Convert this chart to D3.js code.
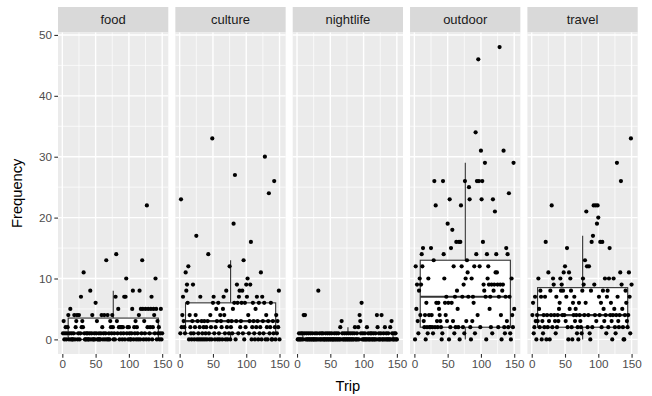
<!DOCTYPE html>
<html>
<head>
<meta charset="utf-8">
<script src="https://cdn.jsdelivr.net/npm/d3@7"></script>
<style>
  body { margin: 0; background: #fff; }
  svg { display: block; font-family: "Liberation Sans", Arial, sans-serif; }
</style>
</head>
<body>
<svg id="chart" width="652" height="396"></svg>
<script>
const facets = ['food', 'culture', 'nightlife', 'outdoor', 'travel'];

// frequency per trip (trip 1..150), one array per facet
const foodFreq = [
  1, 3, 0, 1, 2, 0, 1, 2, 4, 0, 1, 5, 0, 1, 0,
  0, 1, 4, 0, 2, 3, 4, 0, 1, 4, 0, 1, 7, 2, 3,
  2, 11, 1, 0, 0, 1, 0, 1, 0, 0, 1, 8, 0, 1, 4,
  0, 0, 1, 0, 6, 1, 3, 0, 0, 1, 0, 0, 1, 4, 2,
  0, 1, 4, 0, 1, 13, 0, 4, 0, 1, 0, 3, 2, 1, 4,
  2, 0, 1, 0, 7, 14, 3, 1, 5, 2, 0, 2, 1, 2, 0,
  2, 1, 7, 0, 7, 10, 1, 2, 0, 2, 1, 0, 0, 1, 5,
  8, 0, 2, 1, 3, 0, 2, 1, 0, 4, 8, 0, 5, 1, 13,
  5, 0, 3, 1, 5, 0, 22, 2, 5, 0, 1, 2, 5, 7, 0,
  2, 5, 4, 1, 10, 5, 0, 3, 1, 2, 0, 1, 5, 0, 1
];
const cultureFreq = [
  1, 23, 2, 4, 7, 3, 2, 1, 11, 8, 9, 6, 12, 0, 4,
  2, 1, 0, 3, 9, 1, 0, 2, 4, 17, 0, 3, 1, 0, 2,
  7, 0, 3, 1, 0, 2, 3, 0, 1, 2, 0, 3, 14, 1, 0,
  4, 2, 0, 33, 6, 7, 1, 0, 2, 5, 3, 0, 6, 1, 0,
  4, 3, 2, 0, 5, 7, 4, 1, 0, 8, 2, 0, 3, 1, 12,
  0, 2, 3, 1, 5, 19, 6, 27, 0, 3, 9, 6, 1, 7, 8,
  2, 3, 6, 8, 1, 13, 0, 6, 2, 9, 7, 10, 4, 1, 3,
  9, 16, 0, 2, 6, 3, 1, 0, 5, 2, 7, 3, 0, 6, 1,
  2, 11, 0, 7, 3, 1, 6, 30, 0, 4, 2, 0, 3, 24, 1,
  2, 6, 0, 0, 3, 1, 26, 2, 0, 4, 1, 3, 2, 8, 0
];
const nightlifeFreq = [
  0, 0, 1, 0, 0, 1, 0, 1, 0, 4, 1, 4, 0, 1, 0,
  0, 1, 0, 0, 1, 0, 0, 1, 0, 0, 0, 1, 0, 0, 1,
  0, 8, 0, 1, 0, 0, 1, 0, 1, 0, 0, 0, 1, 0, 0,
  1, 0, 0, 1, 0, 0, 1, 0, 0, 0, 1, 0, 0, 1, 0,
  0, 1, 0, 0, 2, 0, 3, 1, 0, 0, 1, 0, 0, 1, 0,
  0, 1, 0, 0, 1, 0, 0, 1, 0, 0, 1, 2, 0, 0, 1,
  0, 2, 0, 4, 3, 1, 6, 0, 1, 0, 0, 1, 0, 0, 2,
  0, 1, 0, 0, 1, 0, 1, 0, 0, 1, 0, 0, 1, 0, 4,
  2, 0, 1, 0, 0, 1, 4, 0, 0, 1, 0, 2, 0, 1, 0,
  0, 1, 0, 0, 2, 0, 3, 1, 0, 0, 1, 0, 1, 0, 0
];
const outdoorFreq = [
  0, 12, 5, 9, 3, 1, 8, 10, 4, 9, 14, 12, 15, 3, 2,
  4, 0, 6, 2, 1, 10, 4, 2, 2, 15, 4, 2, 1, 13, 26,
  2, 22, 6, 3, 2, 6, 5, 4, 3, 2, 0, 1, 26, 14, 10,
  6, 4, 7, 3, 19, 6, 0, 23, 2, 15, 6, 18, 3, 12, 1,
  7, 2, 16, 8, 5, 2, 16, 0, 16, 22, 12, 7, 2, 9, 1,
  26, 10, 3, 13, 11, 7, 25, 23, 2, 0, 10, 3, 7, 6, 12,
  1, 34, 14, 26, 4, 46, 26, 12, 2, 31, 23, 26, 16, 9, 8,
  29, 7, 0, 14, 10, 12, 9, 5, 7, 2, 9, 1, 23, 8, 9,
  21, 11, 14, 11, 9, 2, 7, 48, 9, 4, 0, 8, 9, 31, 2,
  1, 7, 15, 3, 14, 2, 24, 7, 1, 0, 10, 4, 2, 29, 5
];
const travelFreq = [
  4, 6, 1, 2, 7, 3, 0, 4, 3, 10, 5, 2, 8, 7, 0,
  3, 1, 4, 2, 7, 16, 0, 4, 2, 11, 3, 0, 8, 4, 22,
  2, 10, 9, 4, 3, 1, 7, 2, 4, 3, 5, 6, 10, 8, 9,
  4, 8, 11, 4, 12, 3, 7, 15, 2, 0, 11, 5, 10, 8, 2,
  0, 6, 4, 7, 3, 5, 4, 1, 2, 0, 6, 4, 3, 2, 1,
  8, 10, 9, 4, 13, 6, 21, 12, 2, 4, 12, 1, 0, 8, 16,
  2, 17, 22, 9, 4, 22, 3, 19, 22, 20, 7, 4, 16, 6, 2,
  16, 8, 5, 3, 10, 4, 1, 7, 8, 2, 10, 15, 4, 6, 3,
  0, 4, 10, 5, 2, 1, 4, 29, 7, 3, 2, 4, 11, 26, 9,
  5, 2, 0, 0, 4, 8, 6, 3, 2, 4, 11, 7, 1, 33, 9
];
const freqByFacet = [foodFreq, cultureFreq, nightlifeFreq, outdoorFreq, travelFreq];
const trips = d3.range(1, 151);

// boxplot summary, one value per facet
const boxLower  = [0, 0, 0, 0, 0];
const boxQ1     = [0, 1, 0, 2, 2];
const boxMedian = [1, 3, 0, 7, 4];
const boxQ3     = [3.5, 6, 1, 13, 8.5];
const boxUpper  = [8, 13, 2, 29, 17];
const boxCenter = 76.5;
const boxHalfWidth = 67.7;

const yTicks = [0, 10, 20, 30, 40, 50];
const yMinor = [5, 15, 25, 35, 45];
const xTicks = [0, 50, 100, 150];
const xMinor = [25, 75, 125];

const plotLeft = 58, stripTop = 7, panelTop = 32.5, panelBottom = 354;
const panelW = 110.3, panelStep = 117.35;
const panelH = panelBottom - panelTop;
const tickFont = '11.7px';

const svg = d3.select('#chart');

const x = d3.scaleLinear().domain([-6.5, 159.2]).range([0, panelW]);
const y = d3.scaleLinear().domain([-2.4, 50.4]).range([panelH, 0]);

facets.forEach((name, i) => {
  const left = plotLeft + i * panelStep;
  const freq = freqByFacet[i];
  const points = trips.map((t, k) => ({ trip: t, freq: freq[k] }));

  // strip
  svg.append('rect')
    .attr('x', left).attr('y', stripTop)
    .attr('width', panelW).attr('height', panelTop - stripTop)
    .attr('fill', '#D9D9D9');
  svg.append('text')
    .attr('x', left + panelW / 2).attr('y', (stripTop + panelTop) / 2)
    .attr('dy', '0.35em')
    .attr('text-anchor', 'middle')
    .attr('fill', '#1A1A1A')
    .style('font-size', '13px')
    .text(name);

  const g = svg.append('g').attr('transform', `translate(${left},${panelTop})`);

  g.append('rect').attr('width', panelW).attr('height', panelH).attr('fill', '#EBEBEB');

  g.selectAll('.ymin').data(yMinor).enter().append('line')
    .attr('x1', 0).attr('x2', panelW).attr('y1', d => y(d)).attr('y2', d => y(d))
    .attr('stroke', '#fff').attr('stroke-width', 0.7);
  g.selectAll('.xmin').data(xMinor).enter().append('line')
    .attr('y1', 0).attr('y2', panelH).attr('x1', d => x(d)).attr('x2', d => x(d))
    .attr('stroke', '#fff').attr('stroke-width', 0.7);
  g.selectAll('.ymaj').data(yTicks).enter().append('line')
    .attr('x1', 0).attr('x2', panelW).attr('y1', d => y(d)).attr('y2', d => y(d))
    .attr('stroke', '#fff').attr('stroke-width', 1.4);
  g.selectAll('.xmaj').data(xTicks).enter().append('line')
    .attr('y1', 0).attr('y2', panelH).attr('x1', d => x(d)).attr('x2', d => x(d))
    .attr('stroke', '#fff').attr('stroke-width', 1.4);

  // boxplot
  const bx0 = x(boxCenter - boxHalfWidth), bx1 = x(boxCenter + boxHalfWidth), bxc = x(boxCenter);
  g.append('line')
    .attr('x1', bxc).attr('x2', bxc).attr('y1', y(boxQ3[i])).attr('y2', y(boxUpper[i]))
    .attr('stroke', '#333').attr('stroke-width', 1.1);
  g.append('line')
    .attr('x1', bxc).attr('x2', bxc).attr('y1', y(boxQ1[i])).attr('y2', y(boxLower[i]))
    .attr('stroke', '#333').attr('stroke-width', 1.1);
  g.append('rect')
    .attr('x', bx0).attr('y', y(boxQ3[i]))
    .attr('width', bx1 - bx0).attr('height', Math.max(0, y(boxQ1[i]) - y(boxQ3[i])))
    .attr('fill', '#fff').attr('stroke', '#333').attr('stroke-width', 1.1);
  g.append('line')
    .attr('x1', bx0).attr('x2', bx1).attr('y1', y(boxMedian[i])).attr('y2', y(boxMedian[i]))
    .attr('stroke', '#333').attr('stroke-width', 2.2);

  // points
  g.selectAll('.pt').data(points).enter().append('circle')
    .attr('cx', d => x(d.trip))
    .attr('cy', d => y(d.freq))
    .attr('r', 2.1)
    .attr('fill', '#000');

  // x axis
  svg.append('g')
    .attr('transform', `translate(${left},${panelBottom})`)
    .call(d3.axisBottom(x).tickValues(xTicks).tickSize(3.67).tickPadding(2.4).tickSizeOuter(0))
    .call(a => a.select('.domain').remove())
    .call(a => a.selectAll('.tick line').attr('stroke', '#333').attr('stroke-width', 1.1))
    .call(a => a.selectAll('.tick text').attr('fill', '#4D4D4D')
      .style('font-size', tickFont).style('font-family', '"Liberation Sans", Arial, sans-serif'));

  if (i === 0) {
    svg.append('g')
      .attr('transform', `translate(${left},${panelTop})`)
      .call(d3.axisLeft(y).tickValues(yTicks).tickSize(3.67).tickPadding(2.4).tickSizeOuter(0))
      .call(a => a.select('.domain').remove())
      .call(a => a.selectAll('.tick line').attr('stroke', '#333').attr('stroke-width', 1.1))
      .call(a => a.selectAll('.tick text').attr('fill', '#4D4D4D')
        .style('font-size', tickFont).style('font-family', '"Liberation Sans", Arial, sans-serif'));
  }
});

// axis titles
svg.append('text')
  .attr('x', plotLeft + (facets.length - 1) * panelStep / 2 + panelW / 2)
  .attr('y', 391)
  .attr('text-anchor', 'middle')
  .attr('fill', '#000')
  .style('font-size', '14.7px')
  .text('Trip');

svg.append('text')
  .attr('transform', `translate(22,${(panelTop + panelBottom) / 2}) rotate(-90)`)
  .attr('text-anchor', 'middle')
  .attr('fill', '#000')
  .style('font-size', '14.7px')
  .text('Frequency');
</script>
</body>
</html>
